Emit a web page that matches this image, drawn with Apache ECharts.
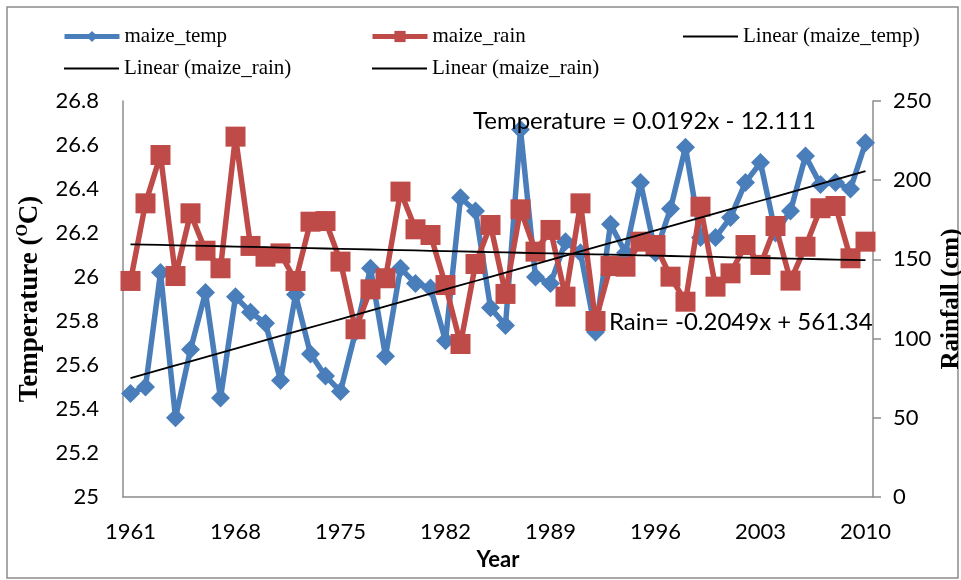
<!DOCTYPE html>
<html>
<head>
<meta charset="utf-8">
<script src="https://cdn.jsdelivr.net/npm/echarts@6/dist/echarts.min.js"></script>
<style>html,body{margin:0;padding:0;background:#fff;}#c{width:961px;height:580px;}</style>
</head>
<body>
<div id="c"></div>
<script>
const years = [1961,1962,1963,1964,1965,1966,1967,1968,1969,1970,
  1971,1972,1973,1974,1975,1976,1977,1978,1979,1980,
  1981,1982,1983,1984,1985,1986,1987,1988,1989,1990,
  1991,1992,1993,1994,1995,1996,1997,1998,1999,2000,
  2001,2002,2003,2004,2005,2006,2007,2008,2009,2010];
const maizeTemp = [25.47,25.50,26.02,25.36,25.67,25.93,25.45,25.91,25.84,25.79,
  25.53,25.92,25.65,25.55,25.48,25.75,26.04,25.64,26.04,25.97,
  25.95,25.71,26.36,26.30,25.86,25.78,26.67,26.00,25.97,26.16,
  26.11,25.75,26.24,26.11,26.43,26.11,26.31,26.59,26.18,26.18,
  26.27,26.43,26.52,26.20,26.30,26.55,26.42,26.43,26.40,26.61];
const maizeRain = [136.4,185.4,215.9,139.5,179.1,155.5,144.4,227.5,158.5,151.7,
  153.8,136.4,173.8,174.2,148.6,105.9,131.1,138.1,192.8,169.0,
  165.4,133.8,96.6,147.1,171.7,128.2,181.6,154.9,168.6,126.5,
  185.4,111.1,145.8,145.4,161.2,159.1,139.1,123.3,183.3,132.8,
  141.2,159.1,146.5,171.1,136.6,158.0,182.3,183.7,150.7,161.2];
// trend line coefficients [slope, intercept] as printed on the chart
const tempFit = [0.0192, -12.111];
const rainFit = [-0.2049, 561.34];
const leftTicks = {min: 25, max: 26.8, interval: 0.2};
const rightTicks = {min: 0, max: 250, interval: 50};

const tempTrend = years.map(y => +(tempFit[0]*y + tempFit[1]).toFixed(4));
const rainTrend = years.map(y => +(rainFit[0]*y + rainFit[1]).toFixed(4));
const tempEq = 'Temperature = ' + tempFit[0] + 'x - ' + Math.abs(tempFit[1]);
const rainEq = 'Rain= ' + rainFit[0] + 'x + ' + rainFit[1];

const AX = '#8c8c8c';
const BLUE = '#4a7ebb', RED = '#be4b48';
const tickFont = {color:'#000', fontFamily:'Lato', fontSize:22};
const legFont = {color:'#000', fontFamily:'Liberation Serif', fontSize:21};
function leg(name, left, top, isTrend){
  const o = {data:[name], left:left, top:top, padding:0, itemWidth:55, itemHeight:14,
    itemGap:0, textStyle:legFont, formatter: n => n.replace(' #2','')};
  if (isTrend) { o.itemStyle = {opacity:0}; o.lineStyle = {width:2, color:'#000'}; }
  else { o.lineStyle = {width:5}; }
  return o;
}
const chart = echarts.init(document.getElementById('c'), null, {renderer:'canvas'});
chart.setOption({
  animation:false,
  backgroundColor:'#fff',
  grid:{left:123, right:88, top:101, bottom:83, containLabel:false, outerBoundsMode:'none'},
  legend:[
    leg('maize_temp', 62, 26, false),
    leg('maize_rain', 370, 26, false),
    leg('Linear (maize_temp)', 682, 26, true),
    leg('Linear (maize_rain)', 63, 58, true),
    leg('Linear (maize_rain) #2', 371, 58, true)
  ],
  xAxis:{type:'category', data:years, boundaryGap:true,
    name:'Year', nameLocation:'middle', nameGap:52, nameMoveOverlap:false,
    nameTextStyle:{color:'#000', fontFamily:'Lato', fontWeight:'bold', fontSize:22},
    axisLine:{lineStyle:{color:AX, width:1.5}}, axisTick:{show:false},
    axisLabel:Object.assign({interval:6, margin:24}, tickFont), splitLine:{show:false}},
  yAxis:[
    {type:'value', min:leftTicks.min, max:leftTicks.max, interval:leftTicks.interval,
     name:'Temperature ({sup|O}C)', nameLocation:'middle', nameGap:78, nameRotate:90, nameMoveOverlap:false,
     nameTextStyle:{color:'#000', fontFamily:'Liberation Serif', fontWeight:'bold', fontSize:27, lineHeight:30,
       rich:{sup:{fontFamily:'Liberation Serif', fontWeight:'bold', fontSize:16, lineHeight:30, verticalAlign:'top', padding:[0,0,12,0], color:'#000'}}},
     axisLine:{show:true, lineStyle:{color:AX, width:1.5}}, axisTick:{show:false},
     axisLabel:Object.assign({margin:24}, tickFont), splitLine:{show:false}},
    {type:'value', min:rightTicks.min, max:rightTicks.max, interval:rightTicks.interval, position:'right',
     name:'Rainfall (cm)', nameLocation:'middle', nameGap:66, nameRotate:90, nameMoveOverlap:false,
     nameTextStyle:{color:'#000', fontFamily:'Liberation Serif', fontWeight:'bold', fontSize:25},
     axisLine:{show:true, lineStyle:{color:AX, width:1.5}},
     axisTick:{show:true, length:8, inside:false, lineStyle:{color:AX, width:1.5}},
     axisLabel:Object.assign({margin:20}, tickFont), splitLine:{show:false}}
  ],
  series:[
    {name:'maize_temp', type:'line', yAxisIndex:0, data:maizeTemp, z:2,
     symbol:'diamond', symbolSize:19, showAllSymbol:true,
     lineStyle:{color:BLUE, width:5.5}, itemStyle:{color:BLUE}},
    {name:'maize_rain', type:'line', yAxisIndex:1, data:maizeRain, z:3,
     symbol:'rect', symbolSize:20, showAllSymbol:true,
     lineStyle:{color:RED, width:5.5}, itemStyle:{color:RED}},
    {name:'Linear (maize_temp)', type:'line', yAxisIndex:0, data:tempTrend, z:4,
     symbol:'none', lineStyle:{color:'#000', width:1.8}, itemStyle:{color:'#000'}},
    {name:'Linear (maize_rain)', type:'line', yAxisIndex:1, data:rainTrend, z:4,
     symbol:'none', lineStyle:{color:'#000', width:1.8}, itemStyle:{color:'#000'}},
    {name:'Linear (maize_rain) #2', type:'line', yAxisIndex:1, data:[], z:4,
     symbol:'none', lineStyle:{color:'#000', width:1.8}, itemStyle:{color:'#000'}}
  ],
  graphic:[
    {type:'rect', shape:{x:7, y:7, width:951, height:571}, silent:true, z:-1,
     style:{fill:null, stroke:AX, lineWidth:1.5}},
    {type:'text', left:473, top:109, z:100,
     style:{text:tempEq, fill:'#000', font:'24px Lato'}},
    {type:'text', left:609, top:310, z:100,
     style:{text:rainEq, fill:'#000', font:'24px Lato'}}
  ]
});
</script>
</body>
</html>
